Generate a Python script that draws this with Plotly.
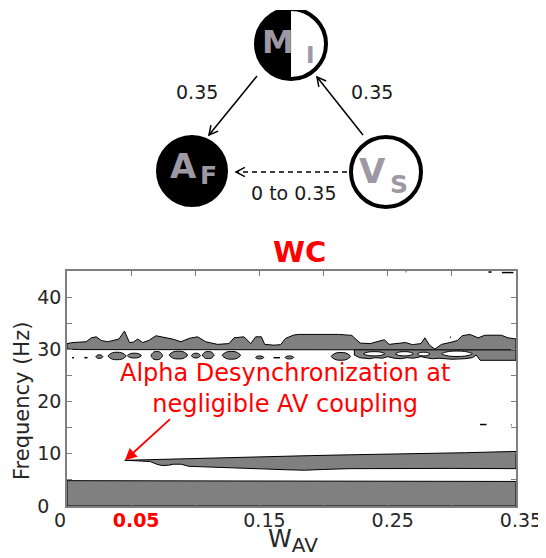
import math
import plotly.graph_objects as go

FONT = "DejaVu Sans"
FILL = "#808080"
TXT = "#262626"
LETTER = "#9d98a3"

# ---------------- axis ticks ----------------
x_tickvals = [0, 0.05, 0.10, 0.15, 0.20, 0.25, 0.30, 0.35]
x_ticktext = ["0\u00a0\u00a0\u00a0\u00a0", "<b><span style='color:red'>0.05</span></b>", "",
              "0.15", "", "0.25", "", "0.35"]
y_tickvals = [0, 5, 10, 15, 20, 25, 30, 35, 40, 45]
y_ticktext = ["0\u00a0\u00a0", "", "10", "", "20", "", "30", "", "40", ""]

# ---------------- delta band (0-5 Hz) ----------------
delta_w = [0.0, 0.10, 0.20, 0.35]
delta_top = [4.85, 4.8, 4.75, 4.7]

# ---------------- alpha band ----------------
alpha_top_w = [0.045, 0.06, 0.08, 0.10, 0.13, 0.16, 0.19, 0.22, 0.25, 0.28, 0.31, 0.35]
alpha_top_f = [8.75, 8.85, 9.0, 9.1, 9.25, 9.45, 9.65, 9.8, 9.9, 10.05, 10.2, 10.45]
alpha_bot_w = [0.045, 0.055, 0.065, 0.07, 0.074, 0.079, 0.083, 0.089, 0.095, 0.11,
               0.13, 0.15, 0.17, 0.185, 0.20, 0.22, 0.26, 0.30, 0.35]
alpha_bot_f = [8.7, 8.65, 8.5, 8.0, 7.75, 7.8, 8.0, 8.0, 7.6, 7.45,
               7.3, 7.1, 6.95, 6.85, 7.0, 7.15, 7.2, 7.2, 7.15]

# ---------------- beta main band ----------------
beta_top_w = [0.0, 0.0047, 0.015, 0.0189, 0.0228, 0.0267, 0.0318, 0.0357, 0.0404, 0.0448,
              0.0487, 0.0518, 0.0551, 0.059, 0.0637, 0.0694, 0.0758, 0.0823, 0.0888, 0.0953,
              0.1017, 0.1082, 0.1173, 0.1263, 0.1302, 0.138, 0.1432, 0.1471, 0.1515, 0.1541,
              0.1613, 0.1665, 0.1704, 0.1768, 0.1806, 0.2117, 0.222, 0.2285, 0.2363, 0.2415,
              0.2474, 0.2511, 0.2583, 0.264, 0.2692, 0.2759, 0.279, 0.2829, 0.2868, 0.292,
              0.2985, 0.3044, 0.308, 0.314, 0.3205, 0.3257, 0.3386, 0.3438, 0.35]
beta_top_f = [31.1, 31.3, 31.45, 32.2, 32.4, 31.7, 31.45, 31.7, 31.97, 33.5,
              31.3, 31.4, 31.97, 31.3, 31.7, 32.6, 32.35, 31.97, 31.45, 32.1,
              32.4, 31.45, 30.95, 31.1, 32.2, 32.4, 31.1, 32.4, 32.4, 30.95,
              30.8, 30.9, 32.1, 32.74, 32.86, 32.86, 32.67, 31.2, 31.1, 31.5,
              31.84, 30.95, 31.1, 31.3, 30.9, 31.1, 32.2, 30.7, 30.05, 30.95,
              31.3, 31.7, 32.6, 32.86, 32.2, 32.7, 32.7, 32.2, 32.0]
beta_bot_w = [0.0, 0.01, 0.03, 0.05, 0.07, 0.09, 0.11, 0.13, 0.15, 0.17,
              0.19, 0.21, 0.25, 0.29, 0.32, 0.35]
beta_bot_f = [30.05, 29.95, 29.9, 29.95, 29.85, 29.9, 29.95, 29.9, 29.95, 29.9,
              29.95, 29.9, 29.9, 29.9, 29.9, 29.9]

# ---------------- lower beta blobs (~28-29.5 Hz) ----------------
blob_w_left = [0.0225, 0.032, 0.047, 0.0655, 0.0797, 0.097, 0.1055, 0.121, 0.147, 0.170, 0.206]
blob_w_right = [0.028, 0.046, 0.058, 0.0745, 0.094, 0.104, 0.1146, 0.1353, 0.1534, 0.1767, 0.221]
blob_f_top = [28.9, 29.35, 29.2, 29.5, 29.55, 29.2, 29.5, 29.5, 28.7, 28.7, 29.3]
blob_f_bot = [28.3, 28.1, 28.4, 28.1, 28.25, 28.4, 28.3, 28.2, 28.2, 28.2, 28.0]

# ---------------- lower strip right part, with holes ----------------
strip_w = [0.224, 0.228, 0.236, 0.24, 0.246, 0.25, 0.255, 0.26, 0.265, 0.27, 0.276, 0.28, 0.285,
           0.29, 0.30, 0.31, 0.316, 0.319, 0.322, 0.33, 0.35]
strip_bot = [28.9, 28.4, 28.2, 28.4, 28.3, 28.6, 28.3, 28.2, 28.4, 28.3, 28.6, 28.4, 28.2,
             28.3, 28.1, 28.2, 28.4, 28.9, 27.9, 27.9, 27.9]
strip_top = 29.95
hole_w_left = [0.231, 0.256, 0.273, 0.292]
hole_w_right = [0.248, 0.270, 0.283, 0.316]
hole_f_top = [29.5, 29.5, 29.4, 29.6]
hole_f_bot = [28.8, 28.8, 28.8, 28.7]

# ---------------- small specks ----------------
speck_w0 = [0.004, 0.0135, 0.161, 0.2985, 0.322, 0.346, 0.264, 0.3285, 0.339]
speck_w1 = [0.0055, 0.016, 0.166, 0.2992, 0.327, 0.3465, 0.2645, 0.331, 0.348]
speck_f = [28.4, 28.4, 28.4, 32.3, 15.6, 15.5, 44.85, 44.8, 44.7]

# page geometry: page body has an 8px margin, figure starts at page (8, 8)
OFF = 8
PL, PR, PT, PB = 67, 516, 271, 506   # main plot area in page pixels
TOP = 10                              # top of diagram area in page pixels
W, H = 546 - OFF, 558 - OFF
ML, MR, MT, MB = PL - OFF, 546 - PR, TOP - OFF, 558 - PB
PW, PH = W - ML - MR, H - MT - MB


def paper(px, py):
    return (px - PL) / PW, (PB - py) / PH


fig = go.Figure()


def band(xs_top, ys_top, xs_bot, ys_bot, fill=FILL):
    xs = list(xs_top) + list(reversed(xs_bot)) + [xs_top[0]]
    ys = list(ys_top) + list(reversed(ys_bot)) + [ys_top[0]]
    fig.add_trace(go.Scatter(x=xs, y=ys, mode="lines", fill="toself", fillcolor=fill,
                             line=dict(color="black", width=1), hoverinfo="skip",
                             showlegend=False))


def blobs(wl, wr, ft, fb, fill=FILL):
    xs, ys = [], []
    for a, b, t, u in zip(wl, wr, ft, fb):
        q = (b - a) * 0.25
        m = (t + u) / 2
        xs += [a, a + q, b - q, b, b - q, a + q, a, None]
        ys += [m, t, t, m, u, u, m, None]
    fig.add_trace(go.Scatter(x=xs, y=ys, mode="lines", fill="toself", fillcolor=fill,
                             line=dict(color="black", width=1, shape="spline", smoothing=0.8),
                             hoverinfo="skip", showlegend=False))


band(delta_w, delta_top, delta_w, [0.0] * len(delta_w))
band(alpha_top_w, alpha_top_f, alpha_bot_w, alpha_bot_f)
band(strip_w, [strip_top] * len(strip_w), strip_w, strip_bot)
blobs(hole_w_left, hole_w_right, hole_f_top, hole_f_bot, fill="white")
blobs(blob_w_left, blob_w_right, blob_f_top, blob_f_bot)
band(beta_top_w, beta_top_f, beta_bot_w, beta_bot_f)
sx, sy = [], []
for a, b, f in zip(speck_w0, speck_w1, speck_f):
    sx += [a, b, None]
    sy += [f, f, None]
fig.add_trace(go.Scatter(x=sx, y=sy, mode="lines", line=dict(color="black", width=1.5),
                         hoverinfo="skip", showlegend=False))

fig.add_trace(go.Scatter(x=[None], y=[None], xaxis="x2", yaxis="y2", showlegend=False))

# ---------------- diagram (page-pixel coordinates in x2/y2) ----------------
shapes = []


def arc_path(cx, cy, r, a0, a1, n=40):
    pts = []
    for i in range(n + 1):
        a = math.radians(a0 + (a1 - a0) * i / n)
        pts.append((cx + r * math.cos(a), cy + r * math.sin(a)))
    return "M " + " L ".join(f"{x:.2f},{y:.2f}" for x, y in pts) + " Z"


def head(x0, y0, x1, y1, L=10, ang=28, color="black", w=1.5):
    d = math.atan2(y1 - y0, x1 - x0)
    p = []
    for s in (1, -1):
        a = d + math.pi + s * math.radians(ang)
        p.append((x1 + L * math.cos(a), y1 + L * math.sin(a)))
    path = f"M {p[0][0]:.2f},{p[0][1]:.2f} L {x1:.2f},{y1:.2f} L {p[1][0]:.2f},{p[1][1]:.2f}"
    shapes.append(dict(type="path", xref="x2", yref="y2", path=path,
                       line=dict(color=color, width=w)))


r = 35
mx, my = 291, 44
shapes.append(dict(type="circle", xref="x2", yref="y2", x0=mx - r, x1=mx + r, y0=my - r, y1=my + r,
                   fillcolor="white", line=dict(color="black", width=0)))
shapes.append(dict(type="path", xref="x2", yref="y2", path=arc_path(mx, my, r, 90, 270),
                   fillcolor="black", line=dict(color="black", width=0)))
shapes.append(dict(type="circle", xref="x2", yref="y2", x0=mx - r, x1=mx + r, y0=my - r, y1=my + r,
                   line=dict(color="black", width=4)))
ax_, ay_ = 192, 171
shapes.append(dict(type="circle", xref="x2", yref="y2", x0=ax_ - r, x1=ax_ + r, y0=ay_ - r, y1=ay_ + r,
                   fillcolor="black", line=dict(color="black", width=2)))
vx, vy = 386, 172
shapes.append(dict(type="circle", xref="x2", yref="y2", x0=vx - r, x1=vx + r, y0=vy - r, y1=vy + r,
                   fillcolor="white", line=dict(color="black", width=4)))

shapes.append(dict(type="line", xref="x2", yref="y2", x0=257, y0=76, x1=209, y1=135,
                   line=dict(color="black", width=1.5)))
head(257, 76, 209, 135)
shapes.append(dict(type="line", xref="x2", yref="y2", x0=363, y0=135, x1=317, y1=77,
                   line=dict(color="black", width=1.5)))
head(363, 135, 317, 77)
shapes.append(dict(type="line", xref="x2", yref="y2", x0=347, y0=172, x1=237, y1=172,
                   line=dict(color="black", width=1.5, dash="5px,4px")))
head(347, 172, 236, 172)

annotations = []


def txt(px, py, s, size, color, bold=False, angle=0):
    x, y = paper(px, py)
    annotations.append(dict(x=x, y=y, xref="paper", yref="paper",
                            text=f"<b>{s}</b>" if bold else s, textangle=angle,
                            showarrow=False, xanchor="center", yanchor="middle",
                            font=dict(family=FONT, size=size, color=color)))


txt(278, 42, "M", 32, LETTER, True)
txt(310, 55, "I", 23, LETTER, True)
txt(183, 166, "A", 34, LETTER, True)
txt(208, 175, "F", 25, LETTER, True)
txt(372, 171, "V", 34, LETTER, True)
txt(399, 184, "S", 25, LETTER, True)
txt(197, 92, "0.35", 19, "#1a1a1a")
txt(372, 92, "0.35", 19, "#1a1a1a")
txt(294, 193, "0 to 0.35", 19, "#1a1a1a")
txt(299, 252, "WC", 29, "red", True)
txt(285, 388, "Alpha Desynchronization at<br>negligible AV coupling", 24, "red")
txt(293, 541, "W<sub><span style='font-size:20px'>AV</span></sub>", 24, TXT)
txt(22, 401, "Frequency (Hz)", 21, TXT, angle=-90)

annotations.append(dict(x=0.0452, y=8.75, xref="x", yref="y", ax=0.0815, ay=16.9,
                        axref="x", ayref="y", text="", showarrow=True, arrowhead=2,
                        arrowsize=1.3, arrowwidth=1.8, arrowcolor="red"))

axis_common = dict(showline=True, linecolor="#7f7f7f", linewidth=1.5, mirror="ticks",
                   ticks="inside", ticklen=5, tickcolor="#7f7f7f", tickwidth=1,
                   showgrid=False, zeroline=False, automargin=False,
                   tickfont=dict(family=FONT, size=19, color=TXT))

fig.update_layout(
    width=W, height=H,
    margin=dict(l=ML, r=MR, t=MT, b=MB, autoexpand=False),
    paper_bgcolor="white", plot_bgcolor="white",
    xaxis=dict(range=[0, 0.35], domain=[0, 1], tickmode="array", tickvals=x_tickvals,
               ticktext=x_ticktext, ticklabelshift=5, ticklabelstandoff=-4, **axis_common),
    yaxis=dict(range=[0, 45], domain=[0, (PB - PT) / PH], tickmode="array",
               tickvals=y_tickvals, ticktext=y_ticktext, **axis_common),
    xaxis2=dict(range=[PL, PR], domain=[0, 1], anchor="y2", visible=False, fixedrange=True),
    yaxis2=dict(range=[PB - 0.5 * PH, TOP], domain=[0.5, 1], anchor="x2", visible=False,
                fixedrange=True),
    shapes=shapes,
    annotations=annotations,
    font=dict(family=FONT),
)

fig.write_html("out.html")
